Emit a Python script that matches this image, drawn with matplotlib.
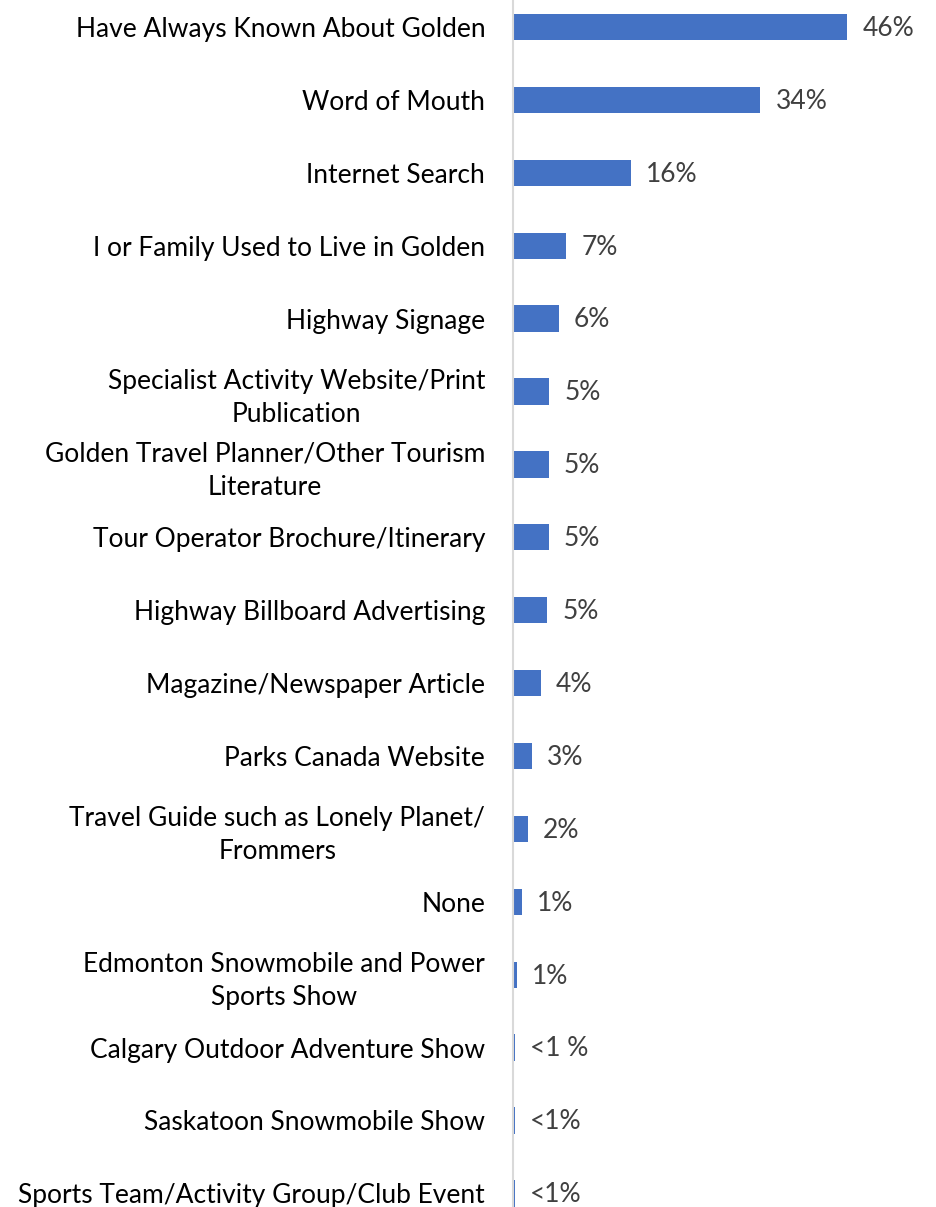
import matplotlib
matplotlib.use("Agg")
import matplotlib.pyplot as plt

plt.rcParams["font.family"] = ["Lato", "DejaVu Sans"]

categories = [
    "Have Always Known About Golden",
    "Word of Mouth",
    "Internet Search",
    "I or Family Used to Live in Golden",
    "Highway Signage",
    "Specialist Activity Website/Print\nPublication",
    "Golden Travel Planner/Other Tourism\nLiterature",
    "Tour Operator Brochure/Itinerary",
    "Highway Billboard Advertising",
    "Magazine/Newspaper Article",
    "Parks Canada Website",
    "Travel Guide such as Lonely Planet/\nFrommers",
    "None",
    "Edmonton Snowmobile and Power\nSports Show",
    "Calgary Outdoor Adventure Show",
    "Saskatoon Snowmobile Show",
    "Sports Team/Activity Group/Club Event",
]
values = [46, 34, 16.2, 7.3, 6.3, 5.0, 4.9, 4.9, 4.7, 3.8, 2.6, 2.0, 1.2, 0.55, 0.25, 0.25, 0.25]
small_labels = {14: "<1 %", 15: "<1%", 16: "<1%"}

fig = plt.figure(figsize=(9.36, 12.07), dpi=100)
ax = fig.add_axes([513 / 936, 0, 423 / 936, 1])

y = list(range(len(categories)))
ax.barh(y, values, height=0.36, color="#4472C4")

for i, v in enumerate(values):
    txt = small_labels.get(i, f"{v:.0f}%")
    ax.annotate(txt, (v, i), xytext=(11, -1), textcoords="offset points",
                va="center", ha="left", fontsize=19, color="#404040")

ax.set_yticks(y)
ax.set_yticklabels(categories, fontsize=19, color="black", linespacing=1.38,
                   multialignment="center")
ax.tick_params(axis="y", length=0, pad=20)
ax.set_xticks([])
ax.set_xlim(0, 423 / 7.27)
ax.set_ylim((1207 - 27) / 72.9, -27 / 72.9)

for side in ["top", "right", "bottom"]:
    ax.spines[side].set_visible(False)
ax.spines["left"].set_color("#D9D9D9")
ax.spines["left"].set_linewidth(1.5)

fig.savefig("out.png", dpi=100)
